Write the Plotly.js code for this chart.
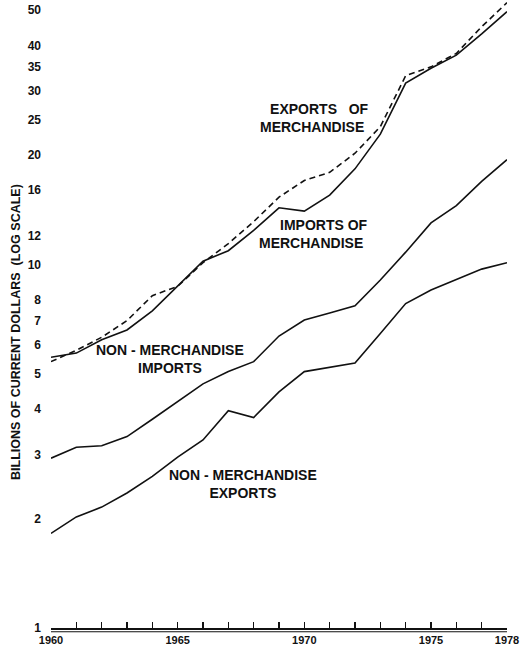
<!DOCTYPE html>
<html>
<head>
<meta charset="utf-8">
<script src="https://cdn.plot.ly/plotly-3.0.1.min.js"></script>
<style>
  html, body { margin: 0; padding: 0; background: #fff; }
  #chart { width: 531px; height: 648px; }
</style>
</head>
<body>
<div id="chart"></div>
<script>
// Years on the x axis
const years = [1960, 1961, 1962, 1963, 1964, 1965, 1966, 1967, 1968, 1969,
               1970, 1971, 1972, 1973, 1974, 1975, 1976, 1977, 1978];

// Billions of current dollars (log scale)
const merchExports    = [5.4, 5.8, 6.3, 7.0, 8.2, 8.7, 10.1, 11.4, 13.1, 15.3,
                         17.0, 17.9, 20.2, 23.9, 33.0, 34.9, 38.0, 45.0, 52.4];
const merchImports    = [5.55, 5.7, 6.2, 6.6, 7.45, 8.7, 10.2, 10.9, 12.4, 14.3,
                         14.0, 15.5, 18.3, 22.8, 31.5, 34.6, 37.6, 43.0, 49.5];
const nonMerchImports = [2.93, 3.14, 3.17, 3.36, 3.75, 4.19, 4.69, 5.07, 5.40, 6.35,
                         7.03, 7.35, 7.69, 9.05, 10.8, 13.0, 14.5, 16.9, 19.4];
const nonMerchExports = [1.82, 2.02, 2.15, 2.35, 2.61, 2.95, 3.29, 3.96, 3.79, 4.46,
                         5.07, 5.22, 5.35, 6.45, 7.8, 8.5, 9.1, 9.7, 10.1];

// Axis ticks
const yTickVals = [1, 2, 3, 4, 5, 6, 7, 8, 10, 12, 16, 20, 25, 30, 35, 40, 50];
const yTickText = ["1", "2", "3", "4", "5", "6", "7", "8", "10", "12", "16", "20", "25", "30", "35", "40", "50"];
const xLabelYears = [1960, 1965, 1970, 1975, 1978];

const FONT = "Liberation Sans, Arial, Helvetica, sans-serif";

function lineTrace(name, y, dash) {
  return {
    x: years, y: y, name: name, type: "scatter", mode: "lines",
    line: { color: "#111", width: 1.6, dash: dash },
    hoverinfo: "skip"
  };
}

const traces = [
  lineTrace("Exports of merchandise", merchExports, "6px,4px"),
  lineTrace("Imports of merchandise", merchImports, "solid"),
  lineTrace("Non-merchandise imports", nonMerchImports, "solid"),
  lineTrace("Non-merchandise exports", nonMerchExports, "solid")
];

const L = 51, R = 24, T = 0, B = 20, W = 531, H = 648;
const PW = W - L - R, PH = H - T - B;
function px(x) { return (x - L) / PW; }
function py(y) { return 1 - (y - T) / PH; }

function label(text, xpos, yc, anchor) {
  return {
    text: text, xref: "paper", yref: "paper", x: px(xpos), y: py(yc),
    xanchor: anchor, yanchor: "middle", align: anchor === "right" ? "right" : "center",
    showarrow: false, borderpad: 0,
    font: { family: FONT, size: 14, color: "#111", weight: "bold" }
  };
}

const annotations = [
  label("EXPORTS\u00a0\u00a0\u00a0OF<br>MERCHANDISE\u00a0", 370, 118, "right"),
  label("IMPORTS\u00a0OF<br>MERCHANDISE\u00a0", 369, 234, "right"),
  label("NON\u00a0-\u00a0MERCHANDISE<br>IMPORTS", 170, 359, "center"),
  label("NON\u00a0-\u00a0MERCHANDISE<br>EXPORTS", 243, 483.5, "center"),
  {
    text: "BILLIONS OF CURRENT DOLLARS\u00a0\u00a0(LOG SCALE)",
    xref: "paper", yref: "paper", x: px(16), y: py(332),
    xanchor: "center", yanchor: "middle", textangle: -90, showarrow: false,
    font: { family: FONT, size: 12.5, color: "#111", weight: "bold" }
  }
];

const layout = {
  width: W, height: H,
  margin: { l: L, r: R, t: T, b: B, pad: 0 },
  paper_bgcolor: "#fff", plot_bgcolor: "#fff",
  showlegend: false,
  xaxis: {
    range: [1960, 1978],
    tickvals: years,
    ticktext: years.map(y => xLabelYears.includes(y) ? String(y) : ""),
    ticks: "inside", ticklen: 6, tickwidth: 1.2, tickcolor: "#111",
    showline: true, linecolor: "#111", linewidth: 1.5,
    showgrid: false, zeroline: false,
    tickfont: { family: FONT, size: 11, color: "#111", weight: "bold" },
    ticklabelstandoff: 1
  },
  yaxis: {
    type: "log",
    range: [0, Math.log10(53.3)],
    tickvals: yTickVals, ticktext: yTickText,
    ticks: "", showline: false, showgrid: false, zeroline: false,
    tickfont: { family: FONT, size: 12, color: "#111", weight: "bold" },
    ticklabelstandoff: 9
  },
  shapes: [
    { type: "line", xref: "x", yref: "paper", x0: 1960, x1: 1978, y0: -0.006, y1: -0.006,
      line: { color: "#111", width: 1.2 } }
  ],
  annotations: annotations
};

Plotly.newPlot("chart", traces, layout, { staticPlot: true, displayModeBar: false });
</script>
</body>
</html>
